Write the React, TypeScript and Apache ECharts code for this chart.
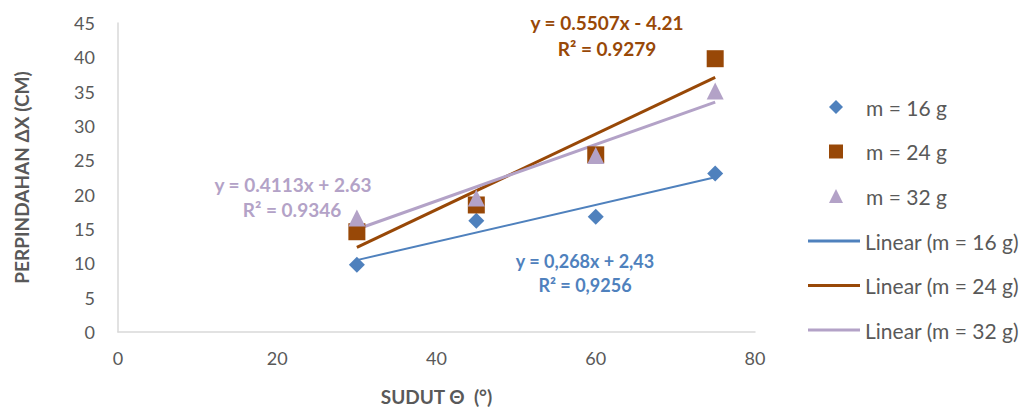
import React, { useEffect, useRef } from "react";
import * as echarts from "echarts";

// Angle (degrees) and displacement (cm) for each mass
const angles = [30, 45, 60, 75];
const dx16 = [9.8, 16.2, 16.8, 23.1];
const dx24 = [14.6, 18.5, 25.8, 39.8];
const dx32 = [16.6, 19.5, 25.7, 35.1];

// Linear trend coefficients [slope, intercept] shown in the equation labels
const fit16 = [0.268, 2.43];
const fit24 = [0.5507, -4.21];
const fit32 = [0.4113, 2.63];

const seriesNames = ["m = 16 g", "m = 24 g", "m = 32 g"];
const trendNames = ["Linear (m = 16 g)", "Linear (m = 24 g)", "Linear (m = 32 g)"];

const BLUE = "#4F81BD";
const BROWN = "#984807";
const PURPLE = "#B3A2C7";
const TEXT = "#595959";
const FONT = "Lato, 'Open Sans', sans-serif";

const pairs = (ys: number[]) => angles.map((x, i) => [x, ys[i]]);
const trend = (f: number[]) => {
  const x0 = angles[0];
  const x1 = angles[angles.length - 1];
  return [
    [x0, f[0] * x0 + f[1]],
    [x1, f[0] * x1 + f[1]],
  ];
};

const LINE_ICON = "path://M0,0H52V3H0Z";

export default function App() {
  const ref = useRef<HTMLDivElement>(null);

  useEffect(() => {
    if (!ref.current) return;
    document.body.style.margin = "0";
    const chart = echarts.init(ref.current, null, { renderer: "svg" });

    const eq = (x: number, y: number, text: string, color: string, size = 19) => ({
      type: "text",
      x,
      y,
      style: {
        text,
        fill: color,
        font: `bold ${size}px ${FONT}`,
        textAlign: "center",
        textVerticalAlign: "middle",
      },
    });

    const legendText = { color: TEXT, fontSize: 21, lineHeight: 22, fontFamily: FONT };
    const axisName = { color: TEXT, fontSize: 19, fontWeight: "bold", fontFamily: FONT };

    chart.setOption({
      animation: false,
      backgroundColor: "#ffffff",
      textStyle: { fontFamily: FONT },
      grid: { left: 118, top: 23, right: 277, bottom: 80, containLabel: false },
      xAxis: {
        type: "value",
        min: 0,
        max: 80,
        interval: 20,
        name: "SUDUT \u0398  (\u00b0)",
        nameLocation: "middle",
        nameGap: 55,
        nameTextStyle: axisName,
        axisLine: { show: true, lineStyle: { color: "#D9D9D9", width: 1.5 } },
        axisTick: { show: false },
        splitLine: { show: false },
        axisLabel: { color: TEXT, fontSize: 18, margin: 17, fontFamily: FONT },
      },
      yAxis: {
        type: "value",
        min: 0,
        max: 45,
        interval: 5,
        name: "PERPINDAHAN \u0394X (CM)",
        nameLocation: "middle",
        nameGap: 87,
        nameRotate: 90,
        nameTextStyle: axisName,
        axisLine: { show: true, lineStyle: { color: "#D9D9D9", width: 1.5 } },
        axisTick: { show: false },
        splitLine: { show: false },
        axisLabel: { color: TEXT, fontSize: 18, margin: 23, fontFamily: FONT },
      },
      legend: [
        {
          orient: "vertical",
          left: 829,
          top: 96,
          padding: 0,
          itemWidth: 14,
          itemHeight: 14,
          itemGap: 22.5,
          textStyle: { ...legendText, padding: [0, 0, 0, 18] },
          data: [
            { name: seriesNames[0], icon: "diamond" },
            { name: seriesNames[1], icon: "rect" },
            { name: seriesNames[2], icon: "triangle" },
          ],
        },
        {
          orient: "vertical",
          left: 808,
          top: 230,
          padding: 0,
          itemWidth: 52,
          itemHeight: 3,
          itemGap: 22.5,
          textStyle: legendText,
          data: [
            { name: trendNames[0], icon: LINE_ICON },
            { name: trendNames[1], icon: LINE_ICON },
            { name: trendNames[2], icon: LINE_ICON },
          ],
        },
      ],
      series: [
        {
          name: trendNames[0],
          type: "line",
          data: trend(fit16),
          symbol: "none",
          lineStyle: { color: BLUE, width: 2 },
          itemStyle: { color: BLUE },
          z: 2,
        },
        {
          name: trendNames[1],
          type: "line",
          data: trend(fit24),
          symbol: "none",
          lineStyle: { color: BROWN, width: 3 },
          itemStyle: { color: BROWN },
          z: 2,
        },
        {
          name: trendNames[2],
          type: "line",
          data: trend(fit32),
          symbol: "none",
          lineStyle: { color: PURPLE, width: 3 },
          itemStyle: { color: PURPLE },
          z: 2,
        },
        {
          name: seriesNames[0],
          type: "scatter",
          data: pairs(dx16),
          symbol: "diamond",
          symbolSize: 16,
          itemStyle: { color: BLUE, opacity: 1 },
          z: 3,
        },
        {
          name: seriesNames[1],
          type: "scatter",
          data: pairs(dx24),
          symbol: "rect",
          symbolSize: 17,
          itemStyle: { color: BROWN, opacity: 1 },
          z: 3,
        },
        {
          name: seriesNames[2],
          type: "scatter",
          data: pairs(dx32),
          symbol: "triangle",
          symbolSize: 17,
          itemStyle: { color: PURPLE, opacity: 1 },
          z: 4,
        },
      ],
      graphic: [
        eq(607, 22, "y = 0.5507x - 4.21", BROWN),
        eq(607, 48, "R\u00b2 = 0.9279", BROWN),
        eq(293, 184, "y = 0.4113x + 2.63", PURPLE),
        eq(292, 209, "R\u00b2 = 0.9346", PURPLE),
        eq(585, 261, "y = 0,268x + 2,43", BLUE, 18),
        eq(585, 285, "R\u00b2 = 0,9256", BLUE, 18),
      ],
    });

    return () => chart.dispose();
  }, []);

  return <div ref={ref} style={{ width: 1032, height: 412 }} />;
}
